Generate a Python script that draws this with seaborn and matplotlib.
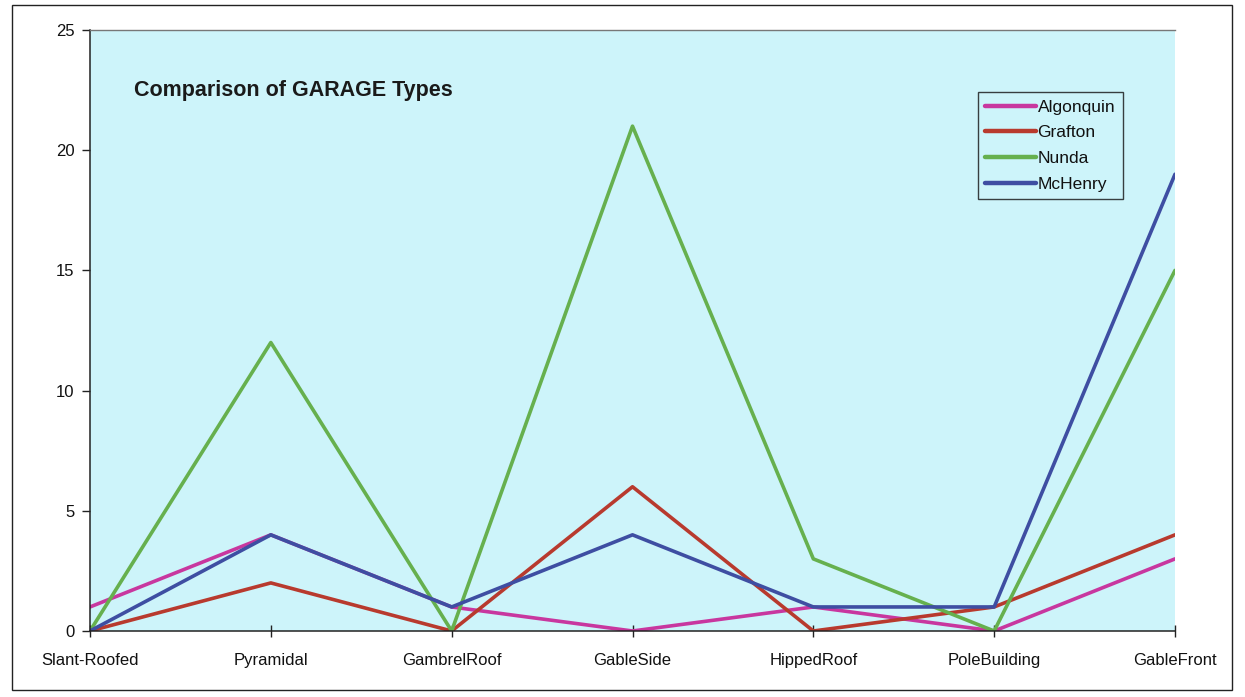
import matplotlib
matplotlib.use("Agg")
import matplotlib.pyplot as plt
import seaborn as sns
import pandas as pd
from matplotlib.patches import Rectangle
from matplotlib.lines import Line2D

categories = ["Slant-Roofed", "Pyramidal", "GambrelRoof", "GableSide",
              "HippedRoof", "PoleBuilding", "GableFront"]
algonquin = [1, 4, 1, 0, 1, 0, 3]
grafton = [0, 2, 0, 6, 0, 1, 4]
nunda = [0, 12, 0, 21, 3, 0, 15]
mchenry = [0, 4, 1, 4, 1, 1, 19]
series_names = ["Algonquin", "Grafton", "Nunda", "McHenry"]
colors = ["#c8379f", "#b83a2e", "#66b04e", "#3e4ea2"]
y_ticks = [0, 5, 10, 15, 20, 25]
title = "Comparison of GARAGE Types"

rows = []
for name, vals in zip(series_names, [algonquin, grafton, nunda, mchenry]):
    for i, (c, v) in enumerate(zip(categories, vals)):
        rows.append({"pos": i, "category": c, "series": name, "value": v})
df = pd.DataFrame(rows)

sns.set_style("white")
plt.rcParams["font.family"] = ["Liberation Sans", "DejaVu Sans"]
plt.rcParams["text.color"] = "#111111"
plt.rcParams["xtick.labelcolor"] = "#111111"
plt.rcParams["ytick.labelcolor"] = "#111111"

fig = plt.figure(figsize=(12.45, 6.97), dpi=100)
ax = fig.add_axes([90/1245, 1-631/697, (1175-90)/1245, (631-30)/697])
ax.set_facecolor("#cdf4fa")

sns.lineplot(data=df, x="pos", y="value", hue="series", hue_order=series_names,
             palette=colors, linewidth=2.6, ax=ax, legend=False, sort=False)

ax.set_xlim(0, len(categories) - 1)
ax.set_ylim(0, 25)
ax.set_xticks(range(len(categories)))
ax.set_xticklabels(categories, fontsize=12)
ax.set_yticks(y_ticks)
ax.set_yticklabels([str(t) for t in y_ticks], fontsize=12)
ax.set_xlabel("")
ax.set_ylabel("")
ax.tick_params(axis="x", bottom=True, direction="inout", length=9, width=1,
               color="#222222", pad=11)
ax.tick_params(axis="y", left=True, direction="out", length=6, width=1,
               color="#222222", pad=5)

for s in ["left", "bottom"]:
    ax.spines[s].set_visible(True)
    ax.spines[s].set_color("#222222")
    ax.spines[s].set_linewidth(1.1)
ax.spines["top"].set_visible(True)
ax.spines["top"].set_color("#777777")
ax.spines["top"].set_linewidth(1.0)
ax.spines["right"].set_visible(False)

ax.text(0.041, 0.899, title, transform=ax.transAxes, fontsize=15.5,
        fontweight="bold", color="#1a1a1a", va="center", ha="left")

handles = [Line2D([0], [0], color=c, lw=3.2) for c in colors]
leg = ax.legend(handles, series_names, loc="upper right",
                bbox_to_anchor=(0.952, 0.897), fontsize=12.5, frameon=True,
                fancybox=False, handlelength=2.9, handletextpad=0.1,
                labelspacing=0.6, borderpad=0.45, borderaxespad=0)
leg.get_frame().set_edgecolor("#111111")
leg.get_frame().set_linewidth(1.0)
leg.get_frame().set_facecolor("#cdf4fa")

# outer chart frame
fig.patches.append(Rectangle((12/1245, 1-690/697), (1232-12)/1245, (690-5)/697,
                             transform=fig.transFigure, fill=False,
                             edgecolor="#222222", linewidth=1.0))

fig.savefig("out.png", dpi=100, facecolor="white")
